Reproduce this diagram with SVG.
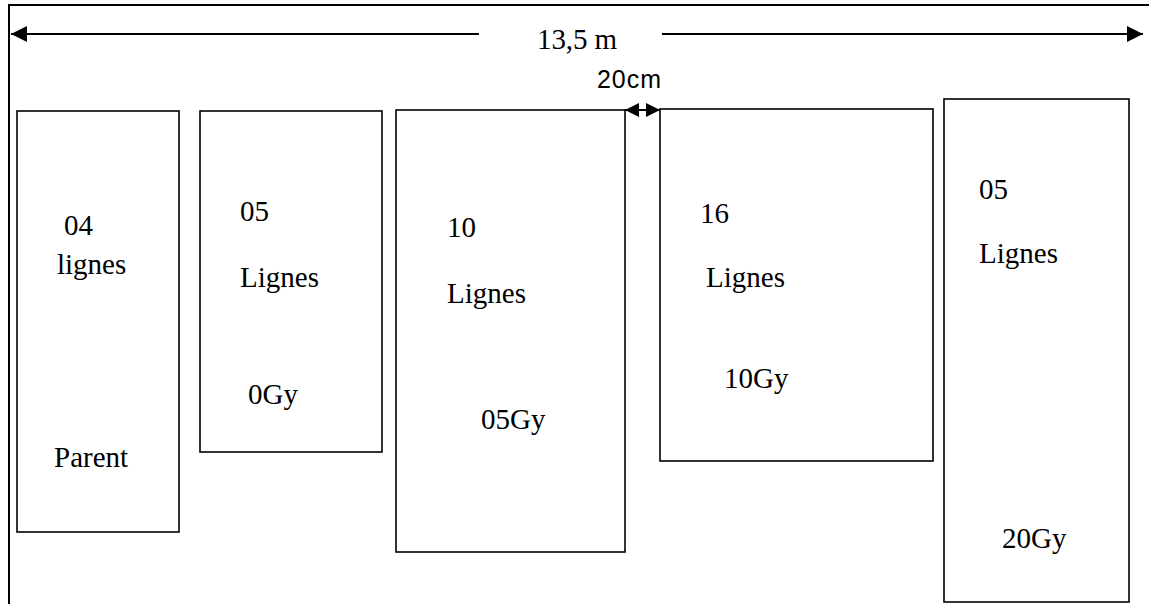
<svg xmlns="http://www.w3.org/2000/svg" width="1149" height="604" viewBox="0 0 1149 604">
<style>
.box{fill:#fff;stroke:#000;stroke-width:1.6}
.t{font-family:"Liberation Serif","Times New Roman",serif;font-size:29px;fill:#000}
.s{font-family:"Liberation Sans",Arial,sans-serif;font-size:25px;fill:#000}
.ln{stroke:#000;stroke-width:2;fill:none}
</style>
<defs>
<marker id="ah" markerUnits="userSpaceOnUse" markerWidth="18" markerHeight="16" refX="16" refY="8" orient="auto-start-reverse">
<path d="M0,0 L16,8 L0,16 Z" fill="#000"/>
</marker>
<marker id="ahs" markerUnits="userSpaceOnUse" markerWidth="16" markerHeight="14" refX="14" refY="7" orient="auto-start-reverse">
<path d="M0,0 L14,7 L0,14 Z" fill="#000"/>
</marker>
</defs>
<rect width="1149" height="604" fill="#fff"/>
<g id="frame">
<path class="ln" d="M9,604 V5 H1149"/>
</g>
<g id="connectors">
<line class="ln" x1="11" y1="34" x2="479" y2="34" marker-start="url(#ah)"/>
<line class="ln" x1="662" y1="34" x2="1143" y2="34" marker-end="url(#ah)"/>
<line class="ln" x1="625" y1="110" x2="660" y2="110" marker-start="url(#ahs)" marker-end="url(#ahs)"/>
</g>
<g id="labels">
<text class="t" x="537" y="49" textLength="80">13,5 m</text>
<text class="s" x="597" y="88" textLength="64">20cm</text>
</g>
<g id="box1">
<rect class="box" x="17" y="111" width="162" height="421"/>
<text class="t" x="64" y="235">04</text>
<text class="t" x="57" y="274">lignes</text>
<text class="t" x="54" y="467">Parent</text>
</g>
<g id="box2">
<rect class="box" x="200" y="111" width="182" height="341"/>
<text class="t" x="240" y="221">05</text>
<text class="t" x="240" y="287">Lignes</text>
<text class="t" x="248" y="404">0Gy</text>
</g>
<g id="box3">
<rect class="box" x="396" y="110" width="229" height="442"/>
<text class="t" x="447" y="237">10</text>
<text class="t" x="447" y="303">Lignes</text>
<text class="t" x="481" y="429">05Gy</text>
</g>
<g id="box4">
<rect class="box" x="660" y="109" width="273" height="352"/>
<text class="t" x="700" y="223">16</text>
<text class="t" x="706" y="287">Lignes</text>
<text class="t" x="724" y="388">10Gy</text>
</g>
<g id="box5">
<rect class="box" x="944" y="99" width="185" height="503"/>
<text class="t" x="979" y="199">05</text>
<text class="t" x="979" y="263">Lignes</text>
<text class="t" x="1002" y="548">20Gy</text>
</g>
</svg>
